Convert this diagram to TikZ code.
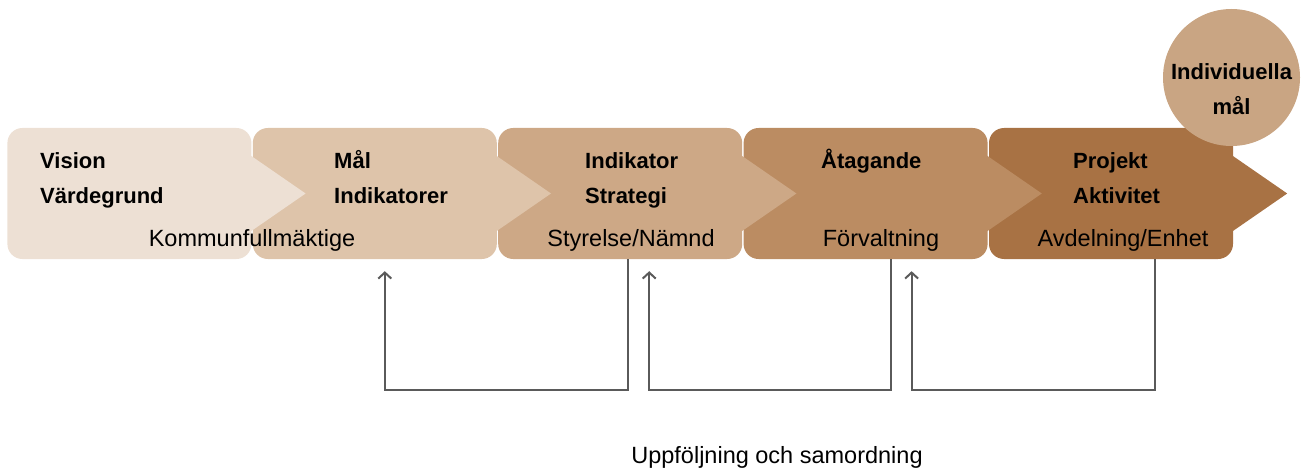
\documentclass[tikz,border=0pt]{standalone}
\usepackage{fontspec}
\setmainfont{Liberation Sans}
\usepackage{tikz}
\usetikzlibrary{positioning,arrows.meta}
\definecolor{stageA}{RGB}{237,224,212}
\definecolor{stageB}{RGB}{222,196,170}
\definecolor{stageC}{RGB}{205,168,134}
\definecolor{stageD}{RGB}{187,140,98}
\definecolor{stageE}{RGB}{168,114,68}
\definecolor{goalfill}{RGB}{201,165,131}
\definecolor{linegray}{RGB}{90,90,90}
\newcommand{\stagetip}[2]{\fill[#2] (#1.east) ++(-1,-38) -- ++(55,38) -- ++(-55,38) -- cycle;}

\begin{document}
\begin{tikzpicture}[x=1pt, y=-1pt,
    stage/.style = {rectangle, rounded corners=15pt, minimum width=244pt, minimum height=131pt, inner sep=0pt},
    head/.style = {font=\fontsize{22}{35}\selectfont\bfseries, align=left, anchor=base west, inner sep=0pt},
    body/.style = {font=\fontsize{23.5}{28}\selectfont, anchor=base, inner sep=0pt},
    feedback/.style = {draw=linegray, line width=2pt, -{Straight Barb[length=6pt,width=13pt]}}]
        \useasboundingbox (0,0) rectangle (1309,468);
        % stages, drawn right to left so each tip lies on the next stage
        \node[stage, fill=stageE] (projekt) at (1111,193.5) {};
        \stagetip{projekt}{stageE}
        \node[stage, fill=stageD, left=1pt of projekt] (atagande) {};
        \stagetip{atagande}{stageD}
        \node[stage, fill=stageC, left=1pt of atagande] (strategi) {};
        \stagetip{strategi}{stageC}
        \node[stage, fill=stageB, left=1pt of strategi] (mal) {};
        \stagetip{mal}{stageB}
        \node[stage, fill=stageA, left=1pt of mal] (vision) {};
        \stagetip{vision}{stageA}
        \node[circle, fill=goalfill, minimum size=137pt, inner sep=0pt] (individ) at (1231.5,77.5) {};
        % texts (base = last line)
        \node[head] (visiontext) at (40,203) {Vision\\Värdegrund};
        \node[head] (maltext) at (334,203) {Mål\\Indikatorer};
        \node[head] (strategitext) at (585,203) {Indikator\\Strategi};
        \node[head] (atagandetext) at (821,168) {Åtagande};
        \node[head] (projekttext) at (1073,203) {Projekt\\Aktivitet};
        \node[head, align=center, anchor=base] (individtext) at (1231.5,115) {Individuella\\mål};
        \node[body] (kf) at (252,246) {Kommunfullmäktige};
        \node[body] (nämnd) at (631,246) {Styrelse/Nämnd};
        \node[body] (forv) at (881,246) {Förvaltning};
        \node[body] (enhet) at (1123,246) {Avdelning/Enhet};
        \node[body] (uppf) at (777,463) {Uppföljning och samordning};
        % feedback loops
        \draw[feedback] ([xshift=8pt]strategi.south) -- ++(0,131) -| ([xshift=10pt,yshift=-12pt]mal.south);
        \draw[feedback] ([xshift=25pt]atagande.south) -- ++(0,131) -| ([xshift=29pt,yshift=-12pt]strategi.south);
        \draw[feedback] ([xshift=44pt]projekt.south) -- ++(0,131) -| ([xshift=46pt,yshift=-12pt]atagande.south);
\end{tikzpicture}
\end{document}
